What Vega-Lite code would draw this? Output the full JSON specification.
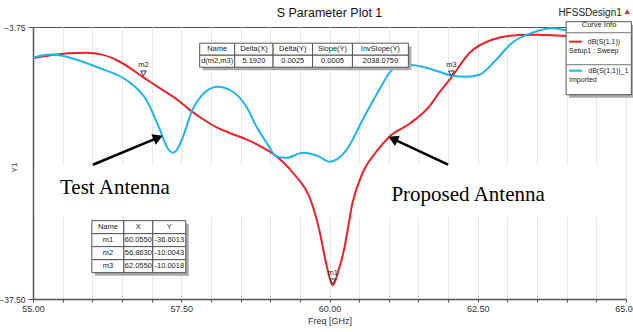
{
  "$schema": "https://vega.github.io/schema/vega-lite/v6.json",
  "width": 593,
  "height": 272,
  "autosize": {"type": "none"},
  "padding": {"left": 33, "top": 27, "right": 7, "bottom": 33},
  "background": "white",
  "config": {"view": {"stroke": "#555", "strokeWidth": 1}},
  "datasets": {
    "curves": [
      {"series": "dB(S(1,1))", "f": 55.0, "v": -7.6},
      {"series": "dB(S(1,1))", "f": 55.3, "v": -7.25},
      {"series": "dB(S(1,1))", "f": 55.6, "v": -7.0},
      {"series": "dB(S(1,1))", "f": 55.9, "v": -6.93},
      {"series": "dB(S(1,1))", "f": 56.15, "v": -7.15},
      {"series": "dB(S(1,1))", "f": 56.45, "v": -8.0},
      {"series": "dB(S(1,1))", "f": 56.863, "v": -10.0},
      {"series": "dB(S(1,1))", "f": 57.15, "v": -11.4},
      {"series": "dB(S(1,1))", "f": 57.44, "v": -12.8},
      {"series": "dB(S(1,1))", "f": 57.64, "v": -14.0},
      {"series": "dB(S(1,1))", "f": 57.85, "v": -15.1},
      {"series": "dB(S(1,1))", "f": 58.1, "v": -16.2},
      {"series": "dB(S(1,1))", "f": 58.32, "v": -16.9},
      {"series": "dB(S(1,1))", "f": 58.6, "v": -17.7},
      {"series": "dB(S(1,1))", "f": 58.87, "v": -18.7},
      {"series": "dB(S(1,1))", "f": 59.05, "v": -19.5},
      {"series": "dB(S(1,1))", "f": 59.21, "v": -20.47},
      {"series": "dB(S(1,1))", "f": 59.44, "v": -22.33},
      {"series": "dB(S(1,1))", "f": 59.66, "v": -24.81},
      {"series": "dB(S(1,1))", "f": 59.83, "v": -29.0},
      {"series": "dB(S(1,1))", "f": 59.95, "v": -33.3},
      {"series": "dB(S(1,1))", "f": 60.055, "v": -35.8},
      {"series": "dB(S(1,1))", "f": 60.15, "v": -34.0},
      {"series": "dB(S(1,1))", "f": 60.25, "v": -31.2},
      {"series": "dB(S(1,1))", "f": 60.39, "v": -25.5},
      {"series": "dB(S(1,1))", "f": 60.56, "v": -21.83},
      {"series": "dB(S(1,1))", "f": 60.79, "v": -19.22},
      {"series": "dB(S(1,1))", "f": 61.01, "v": -17.36},
      {"series": "dB(S(1,1))", "f": 61.35, "v": -15.75},
      {"series": "dB(S(1,1))", "f": 61.68, "v": -13.64},
      {"series": "dB(S(1,1))", "f": 61.85, "v": -11.9},
      {"series": "dB(S(1,1))", "f": 62.055, "v": -10.0},
      {"series": "dB(S(1,1))", "f": 62.36, "v": -6.98},
      {"series": "dB(S(1,1))", "f": 62.74, "v": -5.33},
      {"series": "dB(S(1,1))", "f": 63.2, "v": -4.75},
      {"series": "dB(S(1,1))", "f": 63.5, "v": -4.7},
      {"series": "dB(S(1,1))", "f": 63.9, "v": -4.85},
      {"series": "dB(S(1,1))", "f": 64.5, "v": -4.95},
      {"series": "dB(S(1,1))", "f": 65.0, "v": -5.0},
      {"series": "dB(S(1,1))_1", "f": 55.0, "v": -7.55},
      {"series": "dB(S(1,1))_1", "f": 55.3, "v": -7.15},
      {"series": "dB(S(1,1))_1", "f": 55.57, "v": -7.43},
      {"series": "dB(S(1,1))_1", "f": 55.85, "v": -8.1},
      {"series": "dB(S(1,1))_1", "f": 56.13, "v": -8.87},
      {"series": "dB(S(1,1))_1", "f": 56.52, "v": -10.08},
      {"series": "dB(S(1,1))_1", "f": 56.68, "v": -10.91},
      {"series": "dB(S(1,1))_1", "f": 56.91, "v": -12.77},
      {"series": "dB(S(1,1))_1", "f": 57.14, "v": -16.49},
      {"series": "dB(S(1,1))_1", "f": 57.27, "v": -18.8},
      {"series": "dB(S(1,1))_1", "f": 57.36, "v": -19.35},
      {"series": "dB(S(1,1))_1", "f": 57.45, "v": -18.7},
      {"series": "dB(S(1,1))_1", "f": 57.53, "v": -17.36},
      {"series": "dB(S(1,1))_1", "f": 57.69, "v": -14.01},
      {"series": "dB(S(1,1))_1", "f": 57.85, "v": -12.2},
      {"series": "dB(S(1,1))_1", "f": 58.11, "v": -11.16},
      {"series": "dB(S(1,1))_1", "f": 58.37, "v": -11.78},
      {"series": "dB(S(1,1))_1", "f": 58.6, "v": -13.64},
      {"series": "dB(S(1,1))_1", "f": 58.77, "v": -16.12},
      {"series": "dB(S(1,1))_1", "f": 58.94, "v": -18.11},
      {"series": "dB(S(1,1))_1", "f": 59.11, "v": -19.84},
      {"series": "dB(S(1,1))_1", "f": 59.28, "v": -19.97},
      {"series": "dB(S(1,1))_1", "f": 59.55, "v": -19.35},
      {"series": "dB(S(1,1))_1", "f": 59.83, "v": -19.84},
      {"series": "dB(S(1,1))_1", "f": 60.0, "v": -20.47},
      {"series": "dB(S(1,1))_1", "f": 60.29, "v": -18.97},
      {"series": "dB(S(1,1))_1", "f": 60.56, "v": -15.25},
      {"series": "dB(S(1,1))_1", "f": 60.84, "v": -11.53},
      {"series": "dB(S(1,1))_1", "f": 61.06, "v": -9.05},
      {"series": "dB(S(1,1))_1", "f": 61.3, "v": -8.43},
      {"series": "dB(S(1,1))_1", "f": 61.57, "v": -8.68},
      {"series": "dB(S(1,1))_1", "f": 61.85, "v": -9.3},
      {"series": "dB(S(1,1))_1", "f": 62.07, "v": -9.79},
      {"series": "dB(S(1,1))_1", "f": 62.31, "v": -9.92},
      {"series": "dB(S(1,1))_1", "f": 62.53, "v": -9.67},
      {"series": "dB(S(1,1))_1", "f": 62.81, "v": -7.81},
      {"series": "dB(S(1,1))_1", "f": 63.08, "v": -5.7},
      {"series": "dB(S(1,1))_1", "f": 63.42, "v": -4.46},
      {"series": "dB(S(1,1))_1", "f": 63.75, "v": -3.9},
      {"series": "dB(S(1,1))_1", "f": 63.99, "v": -4.15},
      {"series": "dB(S(1,1))_1", "f": 64.5, "v": -4.8},
      {"series": "dB(S(1,1))_1", "f": 65.0, "v": -5.4}
    ],
    "band": [{"f": 55.03, "f2": 64.98, "v": -20.87, "v2": -27.41}],
    "arrows": [
      {"f": 56.01, "v": -20.84, "f2": 57.11, "v2": -17.48},
      {"f": 62.0, "v": -20.84, "f2": 61.07, "v2": -17.62}
    ],
    "headTest": [{"f": 57.11, "v": -17.48}],
    "headProp": [{"f": 61.07, "v": -17.62}],
    "notes": [
      {"f": 55.455, "v": -24.5, "t": "Test Antenna"},
      {"f": 61.044, "v": -25.3, "t": "Proposed Antenna"}
    ],
    "markers": [
      {"f": 60.055, "v": -35.8, "name": "m1"},
      {"f": 56.863, "v": -10.0, "name": "m2"},
      {"f": 62.055, "v": -10.0, "name": "m3"}
    ],
    "shadows": [
      {"f": 55.993, "f2": 57.576, "v": -27.78, "v2": -34.23},
      {"f": 57.811, "f2": 61.33, "v": -5.76, "v2": -8.74},
      {"f": 63.99, "f2": 65.09, "v": -3.09, "v2": -12.15}
    ],
    "cells": [
      {"f": 55.993, "f2": 56.532, "v": -27.78, "v2": -29.39},
      {"f": 56.532, "f2": 57.02, "v": -27.78, "v2": -29.39},
      {"f": 57.02, "f2": 57.576, "v": -27.78, "v2": -29.39},
      {"f": 55.993, "f2": 56.532, "v": -29.39, "v2": -31.0},
      {"f": 56.532, "f2": 57.02, "v": -29.39, "v2": -31.0},
      {"f": 57.02, "f2": 57.576, "v": -29.39, "v2": -31.0},
      {"f": 55.993, "f2": 56.532, "v": -31.0, "v2": -32.62},
      {"f": 56.532, "f2": 57.02, "v": -31.0, "v2": -32.62},
      {"f": 57.02, "f2": 57.576, "v": -31.0, "v2": -32.62},
      {"f": 55.993, "f2": 56.532, "v": -32.62, "v2": -34.23},
      {"f": 56.532, "f2": 57.02, "v": -32.62, "v2": -34.23},
      {"f": 57.02, "f2": 57.576, "v": -32.62, "v2": -34.23},
      {"f": 57.811, "f2": 58.401, "v": -5.76, "v2": -7.25},
      {"f": 58.401, "f2": 59.049, "v": -5.76, "v2": -7.25},
      {"f": 59.049, "f2": 59.714, "v": -5.76, "v2": -7.25},
      {"f": 59.714, "f2": 60.387, "v": -5.76, "v2": -7.25},
      {"f": 60.387, "f2": 61.33, "v": -5.76, "v2": -7.25},
      {"f": 57.811, "f2": 58.401, "v": -7.25, "v2": -8.74},
      {"f": 58.401, "f2": 59.049, "v": -7.25, "v2": -8.74},
      {"f": 59.049, "f2": 59.714, "v": -7.25, "v2": -8.74},
      {"f": 59.714, "f2": 60.387, "v": -7.25, "v2": -8.74},
      {"f": 60.387, "f2": 61.33, "v": -7.25, "v2": -8.74}
    ],
    "celltext": [
      {"f": 56.263, "v": -28.59, "t": "Name"},
      {"f": 56.776, "v": -28.59, "t": "X"},
      {"f": 57.298, "v": -28.59, "t": "Y"},
      {"f": 56.263, "v": -30.2, "t": "m1"},
      {"f": 56.776, "v": -30.2, "t": "60.0550"},
      {"f": 57.298, "v": -30.2, "t": "-36.6013"},
      {"f": 56.263, "v": -31.81, "t": "m2"},
      {"f": 56.776, "v": -31.81, "t": "56.8630"},
      {"f": 57.298, "v": -31.81, "t": "-10.0043"},
      {"f": 56.263, "v": -33.43, "t": "m3"},
      {"f": 56.776, "v": -33.43, "t": "62.0550"},
      {"f": 57.298, "v": -33.43, "t": "-10.0018"},
      {"f": 58.106, "v": -6.5, "t": "Name"},
      {"f": 58.725, "v": -6.5, "t": "Delta(X)"},
      {"f": 59.381, "v": -6.5, "t": "Delta(Y)"},
      {"f": 60.051, "v": -6.5, "t": "Slope(Y)"},
      {"f": 60.859, "v": -6.5, "t": "InvSlope(Y)"},
      {"f": 58.106, "v": -7.99, "t": "d(m2,m3)"},
      {"f": 58.725, "v": -7.99, "t": "5.1920"},
      {"f": 59.381, "v": -7.99, "t": "0.0025"},
      {"f": 60.051, "v": -7.99, "t": "0.0005"},
      {"f": 60.859, "v": -7.99, "t": "2038.0759"}
    ],
    "legbox": [{"f": 63.99, "f2": 65.09, "v": -3.09, "v2": -12.15}],
    "legsep": [
      {"f": 63.99, "f2": 65.09, "v": -4.46},
      {"f": 63.99, "f2": 65.09, "v": -8.43}
    ],
    "legsample": [
      {"f": 64.04, "f2": 64.26, "v": -5.57, "series": "dB(S(1,1))"},
      {"f": 64.04, "f2": 64.26, "v": -9.17, "series": "dB(S(1,1))_1"}
    ],
    "legtitle": [{"f": 64.545, "v": -3.54, "t": "Curve Info"}],
    "legtext": [
      {"f": 64.04, "v": -6.69, "t": "Setup1 : Sweep"},
      {"f": 64.04, "v": -10.29, "t": "Imported"}
    ],
    "legname": [
      {"f": 64.9, "v": -5.57, "t": "dB(S(1,1))"},
      {"f": 65.04, "v": -9.17, "t": "dB(S(1,1))_1"}
    ],
    "plottitle": [{"f": 60.0, "v": -1.98, "t": "S Parameter Plot 1"}],
    "design": [{"f": 64.394, "v": -1.98, "t": "HFSSDesign1"}],
    "designmark": [{"f": 65.02, "v": -1.85}]
  },
  "encoding": {
    "x": {
      "field": "f", "type": "quantitative",
      "scale": {"domain": [55, 65], "nice": false, "zero": false},
      "axis": {
        "values": [55, 55.5, 56, 56.5, 57, 57.5, 58, 58.5, 59, 59.5, 60, 60.5, 61, 61.5, 62, 62.5, 63, 63.5, 64, 64.5, 65],
        "labelExpr": "datum.value % 2.5 === 0 ? format(datum.value, '.2f') : ''",
        "grid": true, "gridColor": "#e8e8e8", "gridWidth": 1,
        "tickSize": 3, "tickColor": "#555", "domainColor": "#555", "domainWidth": 1.5,
        "labelFont": "Liberation Sans", "labelFontSize": 9, "labelColor": "#333",
        "labelFlush": false, "labelOverlap": false, "labelPadding": 2,
        "title": "Freq [GHz]", "titleFont": "Liberation Sans", "titleFontSize": 9,
        "titleFontWeight": "normal", "titleColor": "#333", "titlePadding": 3
      }
    },
    "y": {
      "field": "v", "type": "quantitative",
      "scale": {"domain": [-37.5, -3.75], "nice": false, "zero": false},
      "axis": {
        "values": [-37.5, -3.75], "format": ".2f", "grid": false,
        "tickSize": 5, "tickColor": "#555", "domainColor": "#555", "domainWidth": 1.5,
        "labelFont": "Liberation Sans", "labelFontSize": 8.5, "labelColor": "#333", "labelPadding": 3,
        "labelFlush": false,
        "title": "Y1", "titleFont": "Liberation Sans", "titleFontSize": 8, "titleFontWeight": "normal",
        "titleColor": "#333", "titleX": -15, "titleY": 140
      }
    }
  },
  "layer": [
    {"data": {"name": "band"}, "mark": {"type": "rect", "fill": "white"},
     "encoding": {"x2": {"field": "f2"}, "y2": {"field": "v2"}}},
    {"data": {"name": "curves"}, "mark": {"type": "line", "strokeWidth": 2, "interpolate": "monotone"},
     "encoding": {"color": {"field": "series", "type": "nominal",
       "scale": {"domain": ["dB(S(1,1))", "dB(S(1,1))_1"], "range": ["#ee2028", "#1db4f0"]}, "legend": null}}},
    {"data": {"name": "arrows"}, "mark": {"type": "rule", "color": "black", "strokeWidth": 2.5},
     "encoding": {"x2": {"field": "f2"}, "y2": {"field": "v2"}}},
    {"data": {"name": "headTest"}, "mark": {"type": "point", "shape": "triangle-right", "angle": 337.5, "filled": true, "color": "black", "size": 130, "opacity": 1},
     "encoding": {}},
    {"data": {"name": "headProp"}, "mark": {"type": "point", "shape": "triangle-left", "angle": 25, "filled": true, "color": "black", "size": 130, "opacity": 1},
     "encoding": {}},
    {"data": {"name": "notes"}, "mark": {"type": "text", "align": "left", "baseline": "alphabetic", "font": "Liberation Serif", "fontSize": 21, "color": "black"},
     "encoding": {"text": {"field": "t"}}},
    {"data": {"name": "markers"}, "mark": {"type": "point", "shape": "triangle-down", "filled": false, "stroke": "#333", "strokeWidth": 1, "size": 30, "yOffset": -4, "opacity": 1},
     "encoding": {}},
    {"data": {"name": "markers"}, "mark": {"type": "text", "fontSize": 7.5, "font": "Liberation Sans", "color": "#222", "dy": -12},
     "encoding": {"text": {"field": "name"}}},
    {"data": {"name": "shadows"}, "mark": {"type": "rect", "fill": "#aaaaaa", "xOffset": 3, "x2Offset": 3, "yOffset": 3, "y2Offset": 3},
     "encoding": {"x2": {"field": "f2"}, "y2": {"field": "v2"}}},
    {"data": {"name": "cells"}, "mark": {"type": "rect", "fill": "white", "stroke": "#555", "strokeWidth": 1},
     "encoding": {"x2": {"field": "f2"}, "y2": {"field": "v2"}}},
    {"data": {"name": "celltext"}, "mark": {"type": "text", "align": "center", "baseline": "middle", "font": "Liberation Sans", "fontSize": 7.5, "color": "#222"},
     "encoding": {"text": {"field": "t"}}},
    {"data": {"name": "legbox"}, "mark": {"type": "rect", "fill": "white", "stroke": "#555", "strokeWidth": 1},
     "encoding": {"x2": {"field": "f2"}, "y2": {"field": "v2"}}},
    {"data": {"name": "legsep"}, "mark": {"type": "rule", "color": "#777", "strokeWidth": 1},
     "encoding": {"x2": {"field": "f2"}}},
    {"data": {"name": "legsample"}, "mark": {"type": "rule", "strokeWidth": 2},
     "encoding": {"x2": {"field": "f2"}, "color": {"field": "series", "type": "nominal", "legend": null}}},
    {"data": {"name": "legtitle"}, "mark": {"type": "text", "align": "center", "baseline": "middle", "font": "Liberation Sans", "fontSize": 7.5, "color": "#222"},
     "encoding": {"text": {"field": "t"}}},
    {"data": {"name": "legtext"}, "mark": {"type": "text", "align": "left", "baseline": "middle", "font": "Liberation Sans", "fontSize": 7, "color": "#222"},
     "encoding": {"text": {"field": "t"}}},
    {"data": {"name": "legname"}, "mark": {"type": "text", "align": "right", "baseline": "middle", "font": "Liberation Sans", "fontSize": 7, "color": "#222"},
     "encoding": {"text": {"field": "t"}}},
    {"data": {"name": "plottitle"}, "mark": {"type": "text", "align": "center", "baseline": "middle", "font": "Liberation Sans", "fontSize": 12.5, "color": "#111"},
     "encoding": {"text": {"field": "t"}}},
    {"data": {"name": "design"}, "mark": {"type": "text", "align": "center", "baseline": "middle", "font": "Liberation Sans", "fontSize": 10, "color": "#222"},
     "encoding": {"text": {"field": "t"}}},
    {"data": {"name": "designmark"}, "mark": {"type": "point", "shape": "triangle-up", "filled": true, "color": "#c0392b", "size": 30, "opacity": 1},
     "encoding": {}}
  ]
}
